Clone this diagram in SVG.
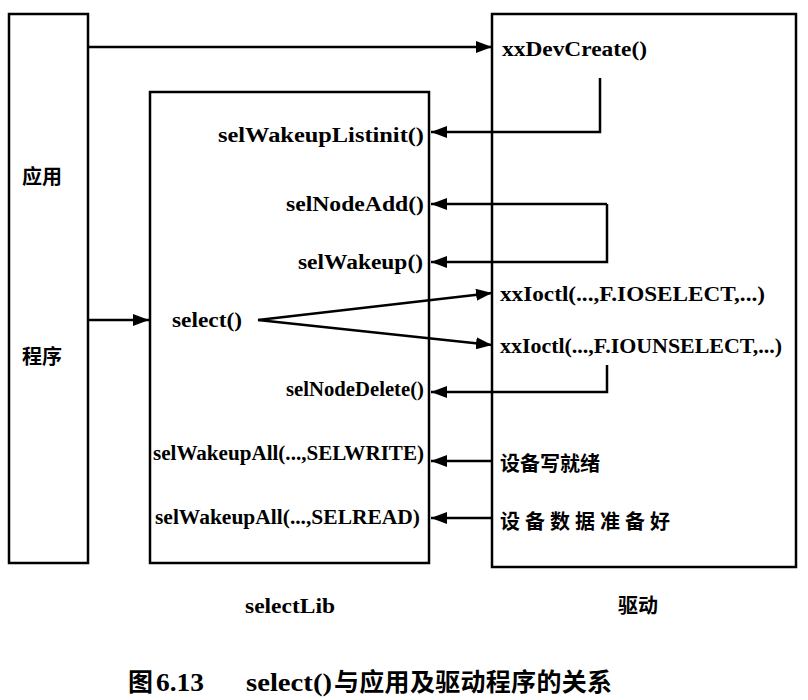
<svg xmlns="http://www.w3.org/2000/svg" width="808" height="700" viewBox="0 0 808 700">
<defs>
<marker id="ah" viewBox="0 0 16 12" refX="16" refY="6" markerWidth="16" markerHeight="12" markerUnits="userSpaceOnUse" orient="auto">
<path d="M0,0 L16,6 L0,12 Z" fill="#000"/>
</marker>
</defs>
<style>
.box{fill:#fff;stroke:#000;stroke-width:2.5}
.t{font-family:"Liberation Serif","Noto Sans CJK SC",serif;font-size:20px;font-weight:bold;fill:#000}
.c{font-family:"Noto Sans CJK SC",sans-serif;font-size:20px;font-weight:bold;fill:#000}
.cap{font-family:"Liberation Serif","Noto Sans CJK SC",serif;font-size:26px;font-weight:bold;fill:#000}
.capc{font-family:"Noto Sans CJK SC",sans-serif;font-size:25px;font-weight:bold;fill:#000}
.ar{fill:none;stroke:#000;stroke-width:2.5;marker-end:url(#ah)}
</style>
<rect width="808" height="700" fill="#fff"/>
<g id="app">
<rect class="box" x="9" y="14" width="79" height="549"/>
<text class="c" x="22" y="184">应用</text>
<text class="c" x="22" y="364">程序</text>
</g>
<g id="selectLib">
<rect class="box" x="150" y="92" width="279" height="471"/>
<text class="t" x="424" y="142" text-anchor="end" textLength="206" lengthAdjust="spacingAndGlyphs">selWakeupListinit()</text>
<text class="t" x="424" y="211" text-anchor="end" textLength="138" lengthAdjust="spacingAndGlyphs">selNodeAdd()</text>
<text class="t" x="423" y="269" text-anchor="end" textLength="125" lengthAdjust="spacingAndGlyphs">selWakeup()</text>
<text class="t" x="172" y="327" textLength="70" lengthAdjust="spacingAndGlyphs">select()</text>
<text class="t" x="424" y="396" text-anchor="end" textLength="138" lengthAdjust="spacingAndGlyphs">selNodeDelete()</text>
<text class="t" x="153" y="460" textLength="271" lengthAdjust="spacingAndGlyphs">selWakeupAll(...,SELWRITE)</text>
<text class="t" x="155" y="524" textLength="265" lengthAdjust="spacingAndGlyphs">selWakeupAll(...,SELREAD)</text>
<text class="t" x="290" y="613" text-anchor="middle" textLength="90" lengthAdjust="spacingAndGlyphs">selectLib</text>
</g>
<g id="driver">
<rect class="box" x="492" y="14" width="304" height="553"/>
<text class="t" x="502" y="56" textLength="145" lengthAdjust="spacingAndGlyphs">xxDevCreate()</text>
<text class="t" x="500" y="301" textLength="265" lengthAdjust="spacingAndGlyphs">xxIoctl(...,F.IOSELECT,...)</text>
<text class="t" x="500" y="353" textLength="282" lengthAdjust="spacingAndGlyphs">xxIoctl(...,F.IOUNSELECT,...)</text>
<text class="c" x="500" y="471" textLength="100" lengthAdjust="spacing">设备写就绪</text>
<text class="c" x="500" y="529" textLength="170" lengthAdjust="spacing">设备数据准备好</text>
<text class="c" x="618" y="613">驱动</text>
</g>
<g id="connectors">
<line class="ar" x1="88" y1="47" x2="492" y2="47"/>
<polyline class="ar" points="600,78 600,132 431,132"/>
<line class="ar" x1="607" y1="204" x2="431" y2="204"/>
<polyline class="ar" points="607,204 607,262 431,262"/>
<line class="ar" x1="88" y1="320" x2="149" y2="320"/>
<line class="ar" x1="258" y1="320" x2="492" y2="293"/>
<line class="ar" x1="258" y1="320" x2="492" y2="345"/>
<polyline class="ar" points="607,365 607,392 431,392"/>
<line class="ar" x1="492" y1="461" x2="431" y2="461"/>
<line class="ar" x1="492" y1="518" x2="431" y2="518"/>
</g>
<g id="caption">
<text class="capc" x="128" y="691">图</text>
<text class="cap" x="156" y="691" textLength="48" lengthAdjust="spacingAndGlyphs">6.13</text>
<text class="cap" x="246" y="691" textLength="86" lengthAdjust="spacingAndGlyphs">select()</text>
<text class="capc" x="334" y="691" textLength="278" lengthAdjust="spacing">与应用及驱动程序的关系</text>
</g>
</svg>
